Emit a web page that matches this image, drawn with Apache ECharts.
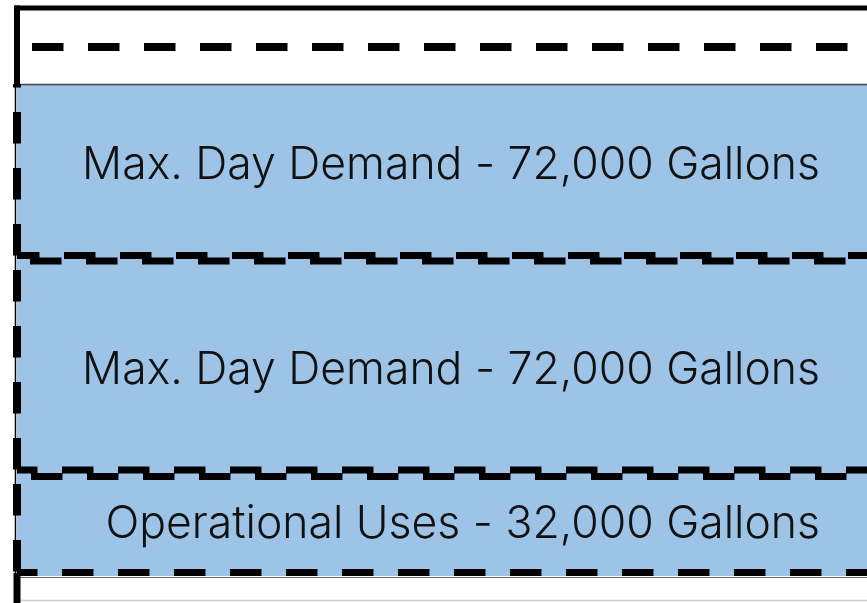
<!DOCTYPE html>
<html>
<head>
<meta charset="utf-8">
<script src="https://cdn.jsdelivr.net/npm/echarts@6/dist/echarts.min.js"></script>
<style>
html,body{margin:0;padding:0;background:#fff;}
#chart{width:867px;height:603px;}
</style>
</head>
<body>
<div id="chart"></div>
<script>
// ---- data (levels, arbitrary level units from tank floor) ----
const segmentNames   = ['Reserve', 'Operational Uses', 'Max. Day Demand', 'Max. Day Demand'];
const segmentGallons = [null, 32000, 72000, 72000];
const segmentBottom  = [2, 27, 129.5, 344];
const segmentTop     = [26, 130, 345.5, 519];
const tankTopLevel   = 595;
const overflowLevel  = 556;
const levelMax       = 603;

// ---- styles / layout ----
const BLUE = '#9DC3E6';
const DASH = [31.5, 24.5];
const PERIOD = 56;
const phase = {
  1: {top: 31, bottom: 62, left: 484},
  2: {top: 30, bottom: 62, left: 270},
  3: {top: null, bottom: 64, left: 56}
};
const labelDy = {1: 0, 2: 5, 3: -6};
const LABEL_RIGHT = 820;
const FONT = {fontFamily: 'Inter', fontWeight: 300, fontSize: 44.5};

function mod(a, n) { return ((a % n) + n) % n; }

function makeLabel(i) {
  if (segmentGallons[i] == null) return '';
  return segmentNames[i] + ' - ' + segmentGallons[i].toLocaleString('en-US') + ' Gallons';
}

const segData = segmentNames.map((n, i) => [i, segmentBottom[i], segmentTop[i]]);

function renderSegment(params, api) {
  const i = api.value(0);
  const cs = params.coordSys;
  const x0 = cs.x, x1 = cs.x + cs.width;
  const yB = api.coord([0, api.value(1)])[1];
  const yT = api.coord([0, api.value(2)])[1];
  const children = [];
  if (i === 0) {
    children.push({type: 'rect', shape: {x: x0, y: yT, width: x1 - x0, height: yB - yT},
      style: {fill: '#fff'}, z2: 0});
    children.push({type: 'line', shape: {x1: x0, y1: yT + 0.5, x2: x1, y2: yT + 0.5},
      style: {stroke: '#666', lineWidth: 1}, z2: 5});
    children.push({type: 'line', shape: {x1: x0, y1: yB - 0.5, x2: x1, y2: yB - 0.5},
      style: {stroke: '#ccc', lineWidth: 1.5}, z2: 5});
    children.push({type: 'line', shape: {x1: x0, y1: yT - 4, x2: x0, y2: yB + 4},
      style: {stroke: '#000', lineWidth: 7}, z2: 12});
    return {type: 'group', children};
  }
  const ph = phase[i];
  children.push({type: 'rect', shape: {x: x0, y: yT, width: x1 - x0 + 2, height: yB - yT},
    style: {fill: BLUE}, z2: 0});
  if (ph.top == null) {
    children.push({type: 'line', shape: {x1: x0, y1: yT + 0.5, x2: x1, y2: yT + 0.5},
      style: {stroke: '#444', lineWidth: 1.5}, z2: 5});
  } else {
    children.push({type: 'line', shape: {x1: x0, y1: yT + 3.5, x2: x1, y2: yT + 3.5},
      style: {stroke: '#000', lineWidth: 7, lineDash: DASH, lineDashOffset: mod(x0 - ph.top, PERIOD)}, z2: 10});
  }
  children.push({type: 'line', shape: {x1: x0, y1: yB - 3.5, x2: x1, y2: yB - 3.5},
    style: {stroke: '#000', lineWidth: 7, lineDash: DASH, lineDashOffset: mod(x0 - ph.bottom, PERIOD)}, z2: 10});
  children.push({type: 'line', shape: {x1: x0, y1: yT, x2: x0, y2: yB},
    style: {stroke: '#000', lineWidth: 8, lineDash: DASH, lineDashOffset: mod(yT - ph.left, PERIOD)}, z2: 11});
  children.push({type: 'text', x: LABEL_RIGHT, y: (yT + yB) / 2 + labelDy[i], z2: 20,
    style: Object.assign({text: makeLabel(i), fill: '#111', align: 'right', verticalAlign: 'middle'}, FONT)});
  return {type: 'group', children};
}

function renderTank(params, api) {
  const cs = params.coordSys;
  const x0 = cs.x, x1 = cs.x + cs.width;
  const yTop = api.coord([0, api.value(0)])[1];
  const yOver = api.coord([0, api.value(1)])[1];
  const yBlue = api.coord([0, segmentTop[3]])[1];
  const yFloor = api.coord([0, 0])[1];
  return {type: 'group', children: [
    {type: 'line', shape: {x1: x0 - 3, y1: yTop, x2: x1, y2: yTop}, style: {stroke: '#000', lineWidth: 5}, z2: 30},
    {type: 'line', shape: {x1: x0, y1: yTop - 2.5, x2: x0, y2: yBlue}, style: {stroke: '#000', lineWidth: 6}, z2: 30},
    {type: 'line', shape: {x1: x0 - 1.5, y1: yBlue, x2: x0 - 1.5, y2: yFloor}, style: {stroke: '#000', lineWidth: 1.5}, z2: 30},
    {type: 'line', shape: {x1: x0, y1: yOver, x2: x1, y2: yOver},
      style: {stroke: '#000', lineWidth: 8, lineDash: DASH, lineDashOffset: mod(x0 - 32, PERIOD)}, z2: 30}
  ]};
}

const chart = echarts.init(document.getElementById('chart'), null, {renderer: 'canvas'});
chart.setOption({
  animation: false,
  backgroundColor: '#fff',
  grid: {left: 17, right: -60, top: 0, bottom: 0},
  xAxis: {type: 'value', min: 0, max: 1, show: false},
  yAxis: {type: 'value', min: 0, max: levelMax, show: false},
  series: [
    {type: 'custom', name: 'segments', renderItem: renderSegment, data: segData,
      encode: {y: [1, 2]}, clip: false, z: 2},
    {type: 'custom', name: 'tank', renderItem: renderTank, data: [[tankTopLevel, overflowLevel]],
      encode: {y: [0, 1]}, clip: false, z: 3}
  ]
});
</script>
</body>
</html>
